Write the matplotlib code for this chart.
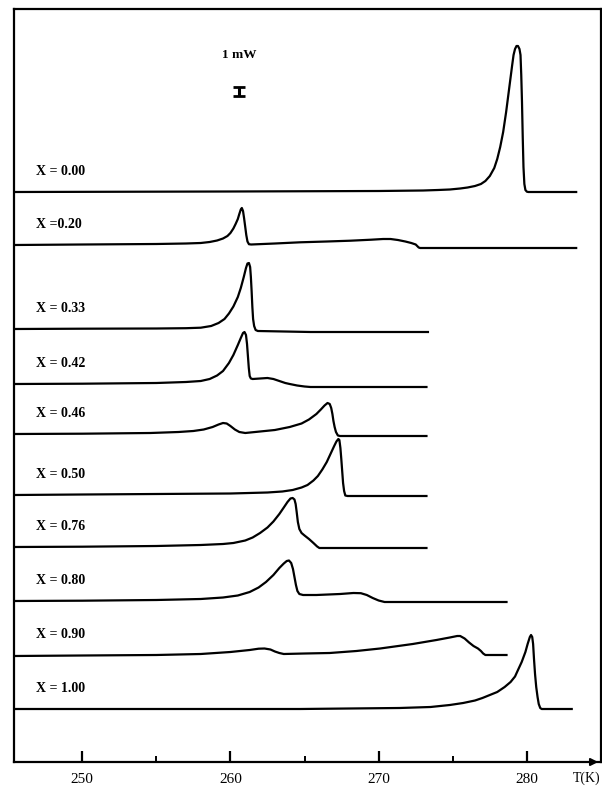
import matplotlib
matplotlib.use("Agg")
import matplotlib.pyplot as plt

# ---------------- data (T in K, signal height above each baseline, arb. units) ----------------
labels = ["X = 0.00", "X =0.20", "X = 0.33", "X = 0.42", "X = 0.46",
          "X = 0.50", "X = 0.76", "X = 0.80", "X = 0.90", "X = 1.00"]
offsets = [570, 517, 433, 378, 328, 267, 215, 161, 106, 53]

T_000 = [245.4, 260, 270, 273.0, 274.0, 274.8, 275.5, 276.0, 276.5, 276.9, 277.2, 277.5, 277.8,
         278.0, 278.2, 278.4, 278.6, 278.8, 279.0, 279.1, 279.2, 279.3, 279.4, 279.5, 279.57,
         279.62, 279.67, 279.72, 279.77, 279.83, 279.9, 280.0, 280.1, 283.4]
h_000 = [0, 0.5, 1, 1.5, 2, 2.5, 3.5, 4.5, 6, 8, 11, 16, 24,
         33, 45, 60, 80, 103, 126, 137, 143, 146, 146, 143, 137,
         117, 90, 55, 25, 8, 2, 0.3, 0, 0]

T_020 = [245.4, 250, 255, 257, 258.0, 258.6, 259.1, 259.5, 259.8, 260.0, 260.2, 260.35, 260.5,
         260.6, 260.7, 260.77, 260.85, 260.92, 261.0, 261.07, 261.15, 261.25, 261.4, 263, 264.7,
         266.5, 268.1, 269.5, 270.3, 270.8, 271.3, 271.8, 272.2, 272.5, 272.7, 272.8, 283.4]
h_020 = [0, 0.5, 1, 1.5, 2, 3, 4.5, 6.5, 9, 12, 16.5, 21, 26,
         31, 35.5, 37, 34, 27, 18, 10, 3.5, 0.8, 0.5, 1.5, 2.7,
         3.5, 4.3, 5.3, 6, 6, 5, 3.5, 2, 0.5, -2.5, -3, -3]

T_033 = [245.4, 250, 255, 257, 258, 258.7, 259.2, 259.6, 259.9, 260.2, 260.5, 260.7, 260.9,
         261.05, 261.15, 261.25, 261.33, 261.38, 261.43, 261.48, 261.53, 261.6, 261.7, 261.85,
         265.4, 273.4]
h_033 = [0, 0.3, 0.5, 0.8, 1.3, 3, 6, 10, 15.5, 22.5, 32, 41, 52,
         61, 65.5, 66, 62, 52, 38, 22, 10, 3, -1, -2,
         -3, -3]

T_042 = [245.4, 250, 255, 257, 258, 258.6, 259.1, 259.5, 259.9, 260.2, 260.5, 260.7, 260.85,
         260.95, 261.05, 261.12, 261.18, 261.24, 261.3, 261.38, 261.5, 262.0, 262.5, 262.9,
         263.3, 263.7, 264.0, 264.5, 265.0, 265.4, 273.3]
h_042 = [0, 0.3, 1, 2, 3, 5, 8.5, 13, 21, 29, 39, 46, 51,
         52, 49, 40, 28, 16, 8, 5.5, 5, 5.5, 6, 5,
         3, 1, 0, -1.5, -2.5, -3, -3]

T_046 = [245.4, 250, 254.6, 256.5, 257.5, 258.2, 258.8, 259.2, 259.5, 259.75, 260.0, 260.3,
         260.6, 261.0, 262.0, 263.0, 264.0, 264.8, 265.3, 265.8, 266.1, 266.35, 266.55, 266.7,
         266.8, 266.88, 266.95, 267.03, 267.12, 267.25, 267.4, 273.3]
h_046 = [0, 0.3, 1, 2, 3, 4.5, 7, 9.5, 11, 10.5, 8, 4.5,
         2, 1, 2.5, 4, 7, 10.5, 14.5, 20, 24.5, 28.5, 31, 30,
         26, 20, 13, 7, 2, -1.5, -2, -2]

T_050 = [245.4, 250, 255, 260, 262.5, 263.5, 264.2, 264.8, 265.2, 265.6, 265.9, 266.2, 266.5,
         266.75, 267.0, 267.15, 267.28, 267.35, 267.42, 267.48, 267.54, 267.6, 267.67, 267.75,
         267.9, 273.3]
h_050 = [0, 0.5, 1, 1.5, 2.5, 3.5, 5, 7.5, 10, 14.5, 19, 25.5, 33,
         41, 49, 53.5, 56, 55, 47, 36, 24, 12, 4, -0.5,
         -1, -1]

T_076 = [245.4, 250, 255, 258, 259.5, 260.2, 261.0, 261.5, 262.0, 262.5, 262.9, 263.3, 263.6,
         263.85, 264.05, 264.2, 264.32, 264.4, 264.47, 264.55, 264.65, 264.8, 265.0, 265.3,
         265.6, 265.85, 266.0, 273.3]
h_076 = [0, 0.3, 1, 2, 3, 4, 6.5, 9.5, 14, 19.5, 25.5, 33, 39.5,
         45, 48.5, 49, 47.5, 43, 35, 25, 18, 14, 11.5, 8,
         4, 0.5, -1, -1]

T_080 = [245.4, 250, 255, 258.0, 259.5, 260.5, 261.3, 261.9, 262.4, 262.9, 263.3, 263.6, 263.8,
         263.95, 264.1, 264.22, 264.32, 264.42, 264.52, 264.65, 264.9, 265.8, 267.4, 268.3,
         268.8, 269.2, 269.6, 270.0, 270.4, 278.7]
h_080 = [0, 0.3, 1, 2, 3.5, 5.5, 9, 13.5, 19, 26, 33, 37.5, 40,
         40.5, 38, 32, 24, 16, 10, 7, 6, 6, 7, 8,
         7.8, 6, 3, 0.5, -1, -1]

T_090 = [245.4, 250, 255, 258, 260, 261.3, 261.9, 262.3, 262.7, 263.0, 263.3, 263.6, 265,
         266.7, 268.5, 270.1, 272.3, 273.9, 274.8, 275.3, 275.5, 275.8, 276.1, 276.4, 276.7,
         276.9, 277.05, 277.2, 278.7]
h_090 = [0, 0.5, 1, 2, 4, 6, 7.3, 7.5, 6.5, 4.5, 3, 2, 2.5,
         3, 5, 7.5, 12, 16, 18.5, 20, 20, 17.5, 13.5, 10, 7.5,
         5, 2.5, 1, 1]

T_100 = [245.4, 260, 264.7, 268, 271.4, 273.5, 274.8, 275.7, 276.5, 277.0, 277.5, 278.0, 278.5,
         278.9, 279.2, 279.4, 279.65, 279.9, 280.05, 280.2, 280.28, 280.36, 280.42, 280.48,
         280.55, 280.63, 280.72, 280.8, 280.9, 281.0, 283.1]
h_100 = [0, 0, 0, 0.5, 1, 2, 4, 6, 8.5, 11, 14, 17, 22,
         27, 32.5, 39, 47, 57, 65, 72, 74, 72, 65, 50,
         35, 22, 12, 5, 1, 0, 0]

temps = [T_000, T_020, T_033, T_042, T_046, T_050, T_076, T_080, T_090, T_100]
heights = [h_000, h_020, h_033, h_042, h_046, h_050, h_076, h_080, h_090, h_100]

major_ticks = [250, 260, 270, 280]
minor_ticks = [255, 265, 275]
scale_bar_units = 9  # height of the "1 mW" bar in signal units

# ---------------- figure ----------------
fig = plt.figure(figsize=(6.02, 7.89), dpi=100)
ax = fig.add_axes([14 / 602, 27 / 789, 587 / 602, 753 / 789])

serif = ["Liberation Serif", "DejaVu Serif"]

for lab, off, T, h in zip(labels, offsets, temps, heights):
    ax.plot(T, [off + v for v in h], color="black", lw=1.6,
            solid_joinstyle="round", solid_capstyle="butt")
    ax.text(246.9, off + 21, lab, family=serif, fontweight="bold", fontsize=10,
            ha="left", va="center")

ax.set_xlim(245.4, 285.0)
ax.set_ylim(0, 753)

ax.set_xticks(major_ticks)
ax.set_xticks(minor_ticks, minor=True)
ax.set_xticklabels([str(t) for t in major_ticks], family=serif, fontsize=11)
ax.tick_params(axis="x", which="major", direction="in", length=8, width=1.6, pad=8)
ax.tick_params(axis="x", which="minor", direction="in", length=4, width=1.4)
ax.set_yticks([])

for s in ax.spines.values():
    s.set_linewidth(1.6)
    s.set_color("black")

# scale bar and its label
ax.text(260.6, 707, "1 mW", family=serif, fontweight="bold", fontsize=9.5,
        ha="center", va="center")
ax.errorbar([260.6], [671], yerr=[[scale_bar_units / 2], [scale_bar_units / 2]],
            fmt="none", ecolor="black", elinewidth=2.2, capsize=4.2, capthick=2.0)

# axis arrow and unit label
ax.annotate("", xy=(1.0, 0.0), xycoords="axes fraction", xytext=(0.975, 0.0),
            arrowprops=dict(arrowstyle="-|>", color="black", lw=1.4, mutation_scale=11),
            annotation_clip=False)
ax.text(284.0, -16, "T(K)", family=serif, fontsize=10, ha="center", va="center",
        clip_on=False)

fig.savefig("out.png", dpi=100)
